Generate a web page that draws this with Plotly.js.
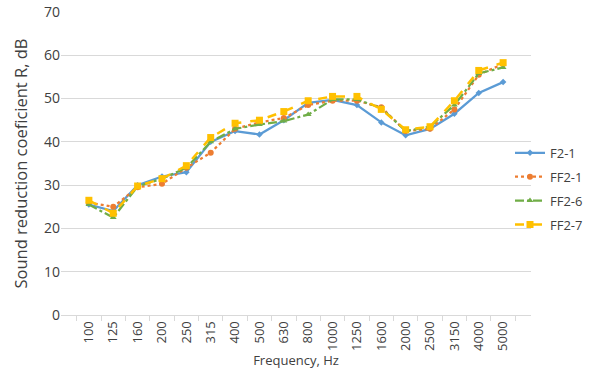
<!DOCTYPE html>
<html>
<head>
<meta charset="utf-8">
<script src="https://cdn.plot.ly/plotly-3.0.1.min.js"></script>
<style>html,body{margin:0;padding:0;background:#fff}#chart{width:600px;height:383px}</style>
</head>
<body>
<div id="chart"></div>
<script>
const frequencies = ["100","125","160","200","250","315","400","500","630","800","1000","1250","1600","2000","2500","3150","4000","5000"];
const F2_1  = [25.5, 24.0, 30.0, 32.0, 33.0, 40.0, 42.5, 41.7, 45.0, 49.0, 49.7, 48.5, 44.5, 41.5, 43.0, 46.5, 51.3, 53.8];
const FF2_1 = [26.0, 25.0, 29.5, 30.3, 34.0, 37.5, 43.0, 44.5, 45.5, 48.5, 49.5, 49.5, 48.0, 42.5, 43.0, 47.5, 55.5, 58.0];
const FF2_6 = [25.5, 22.5, 29.7, 31.5, 34.0, 40.0, 43.0, 44.0, 44.8, 46.3, 49.8, 49.8, 47.8, 42.5, 43.5, 48.5, 55.8, 57.2];
const FF2_7 = [26.5, 23.5, 29.8, 31.5, 34.5, 41.0, 44.3, 45.0, 47.0, 49.5, 50.5, 50.5, 47.5, 42.8, 43.5, 49.5, 56.5, 58.3];
const seriesNames = ["F2-1", "FF2-1", "FF2-6", "FF2-7"];

const font = "'Open Sans', 'Liberation Sans', sans-serif";
const traces = [
  {x: frequencies, y: F2_1, name: seriesNames[0], legendgroup: "a", mode: "lines+markers",
   line: {color: "#5B9BD5", width: 2.25}, marker: {symbol: "diamond", size: 5, color: "#5B9BD5"}},
  {x: frequencies, y: FF2_1, name: seriesNames[1], legendgroup: "b", mode: "lines+markers",
   line: {color: "#ED7D31", width: 2.25, dash: "dot"}, marker: {symbol: "circle", size: 6, color: "#ED7D31"}},
  {x: frequencies, y: FF2_6, name: seriesNames[2], legendgroup: "c", mode: "lines+markers",
   line: {color: "#70AD47", width: 2.25, dash: "dashdot"}, marker: {symbol: "triangle-up", size: 6, color: "#70AD47"}},
  {x: frequencies, y: FF2_7, name: seriesNames[3], legendgroup: "d", mode: "lines+markers",
   line: {color: "#FFC000", width: 2.5, dash: "dash"}, marker: {symbol: "square", size: 7, color: "#FFC000"}}
];
const layout = {
  width: 600, height: 383,
  margin: {l: 61, r: 69, t: 12, b: 68, autoexpand: false},
  paper_bgcolor: "#fff", plot_bgcolor: "#fff",
  font: {family: font, color: "#404040", size: 13},
  showlegend: true,
  legend: {xref: "container", yref: "container", x: 0.85, xanchor: "left", y: 0.507, yanchor: "middle",
           traceorder: "grouped", tracegroupgap: 4,
           font: {size: 13, color: "#404040"}, bgcolor: "rgba(0,0,0,0)", itemwidth: 30},
  xaxis: {type: "category", tickangle: -90, tickson: "boundaries", ticks: "outside", ticklen: 5,
          tickcolor: "#D9D9D9", showline: true, linecolor: "#D9D9D9", showgrid: false,
          tickfont: {size: 13, color: "#404040"},
          title: {text: "Frequency, Hz", font: {size: 13, color: "#404040"}, standoff: 4}},
  yaxis: {range: [0, 70], dtick: 10, showgrid: true, gridcolor: "#D9D9D9", zeroline: false,
          showline: false, ticks: "", tickfont: {size: 14, color: "#404040"},
          title: {text: "Sound reduction coeficient R, dB", font: {size: 16.5, color: "#404040"}, standoff: 12}}
};
Plotly.newPlot("chart", traces, layout, {displayModeBar: false, staticPlot: true});
</script>
</body>
</html>
